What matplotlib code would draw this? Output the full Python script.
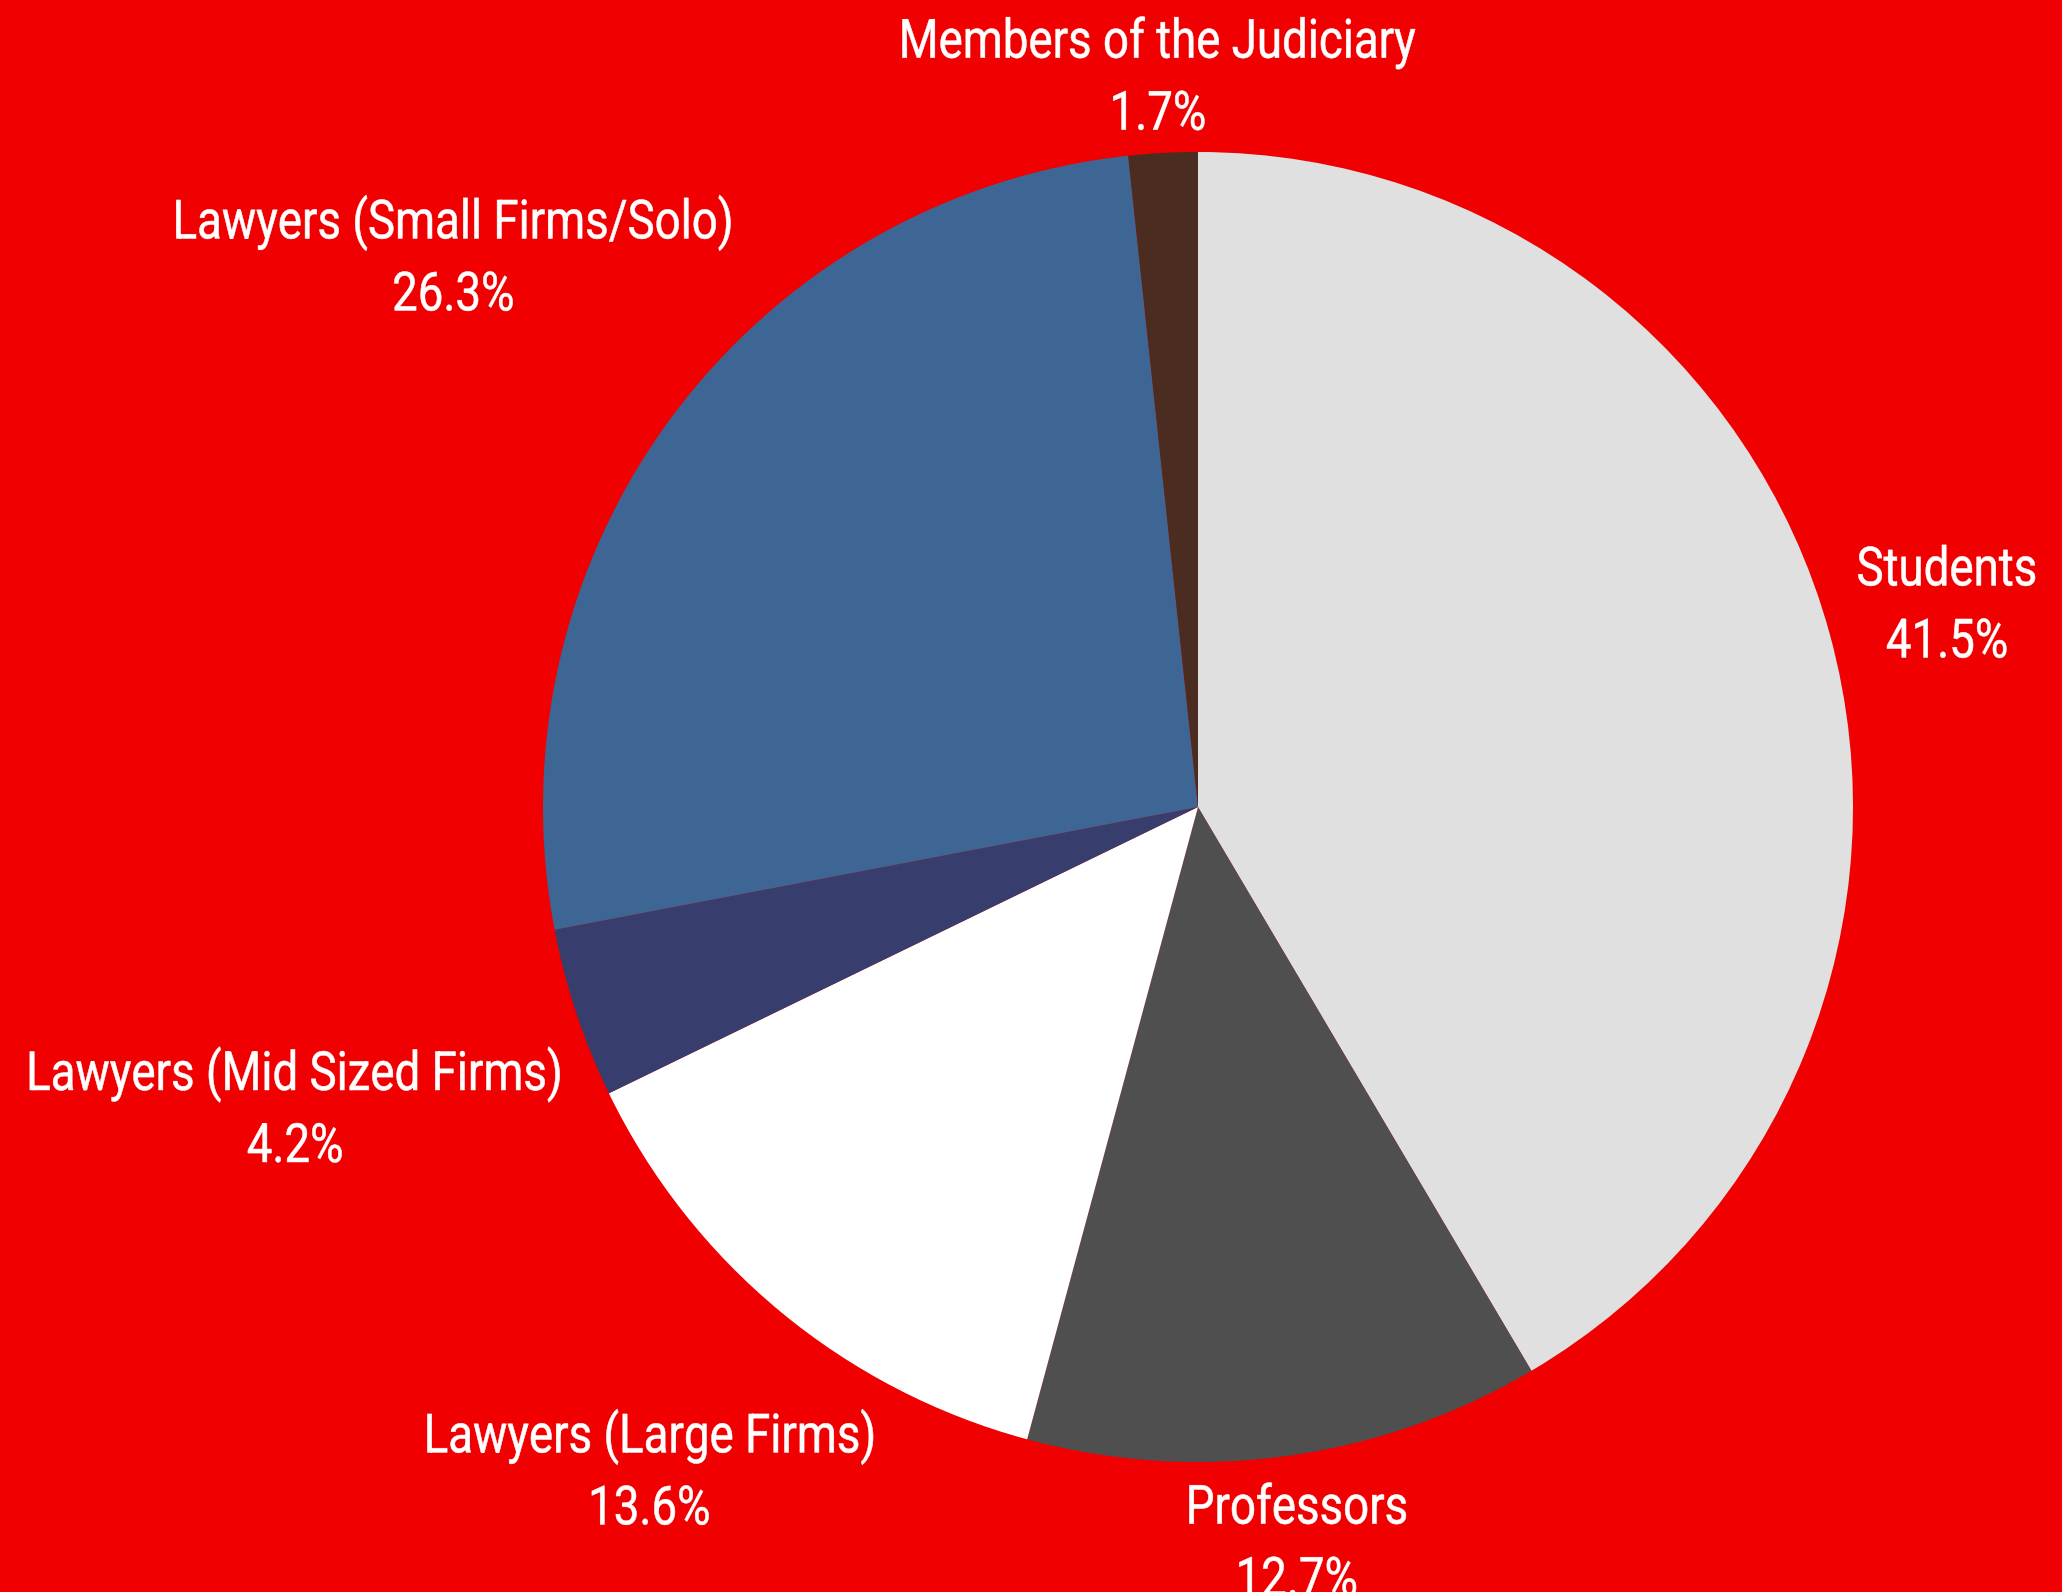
import numpy as np
import matplotlib.pyplot as plt
from matplotlib.textpath import TextPath
from matplotlib.patches import PathPatch
from matplotlib.font_manager import FontProperties
from matplotlib.transforms import Affine2D, IdentityTransform

categories = ['Students', 'Professors', 'Lawyers (Large Firms)',
              'Lawyers (Mid Sized Firms)', 'Lawyers (Small Firms/Solo)',
              'Members of the Judiciary']
shares = [41.5, 12.7, 13.6, 4.2, 26.3, 1.7]
colors = ['#E0E0E0', '#4F4F4F', '#FFFFFF', '#373D6C', '#3E6694', '#4A2C20']
label_dist = [1.185, 1.13, 1.312, 1.453, 1.415, 1.12]

bg = '#F00000'
W, H = 2062, 1592
cx_px, cy_px, r_px = 1198, 807, 655   # pie centre / radius in pixels (from top-left)

fig = plt.figure(figsize=(W / 100, H / 100), dpi=100, facecolor=bg)
ax = fig.add_axes([0, 0, 1, 1])
ax.set_facecolor(bg)

wedges, _ = ax.pie(shares, colors=colors, startangle=90, counterclock=False,
                   radius=1, wedgeprops=dict(linewidth=0))

ax.set_xlim(-cx_px / r_px, (W - cx_px) / r_px)
ax.set_ylim(-(H - cy_px) / r_px, cy_px / r_px)
ax.set_aspect('auto')
ax.axis('off')

# condensed label text: Roboto outlines squeezed horizontally
prop = FontProperties(family='Roboto')
size_px = 54
xscale = 0.845
line_gap = 72
cap = 0.711 * size_px


def condensed_label(x, y, lines):
    n = len(lines)
    for i, s in enumerate(lines):
        tp = TextPath((0, 0), s, size=size_px, prop=prop)
        bb = tp.get_extents()
        mid_y = y + ((n - 1) / 2 - i) * line_gap
        tr = Affine2D().scale(xscale, 1).translate(
            x - (bb.x0 + bb.width / 2) * xscale, mid_y - cap / 2)
        fig.add_artist(PathPatch(tr.transform_path(tp), facecolor='white',
                                 edgecolor='white', lw=0.4,
                                 transform=IdentityTransform()))


for w, name, val, k in zip(wedges, categories, shares, label_dist):
    mid = np.deg2rad((w.theta1 + w.theta2) / 2)
    px, py = ax.transData.transform((k * np.cos(mid), k * np.sin(mid)))
    condensed_label(px, py, [name, f'{val:.1f}%'])

fig.savefig('out.png', dpi=100, facecolor=bg)
